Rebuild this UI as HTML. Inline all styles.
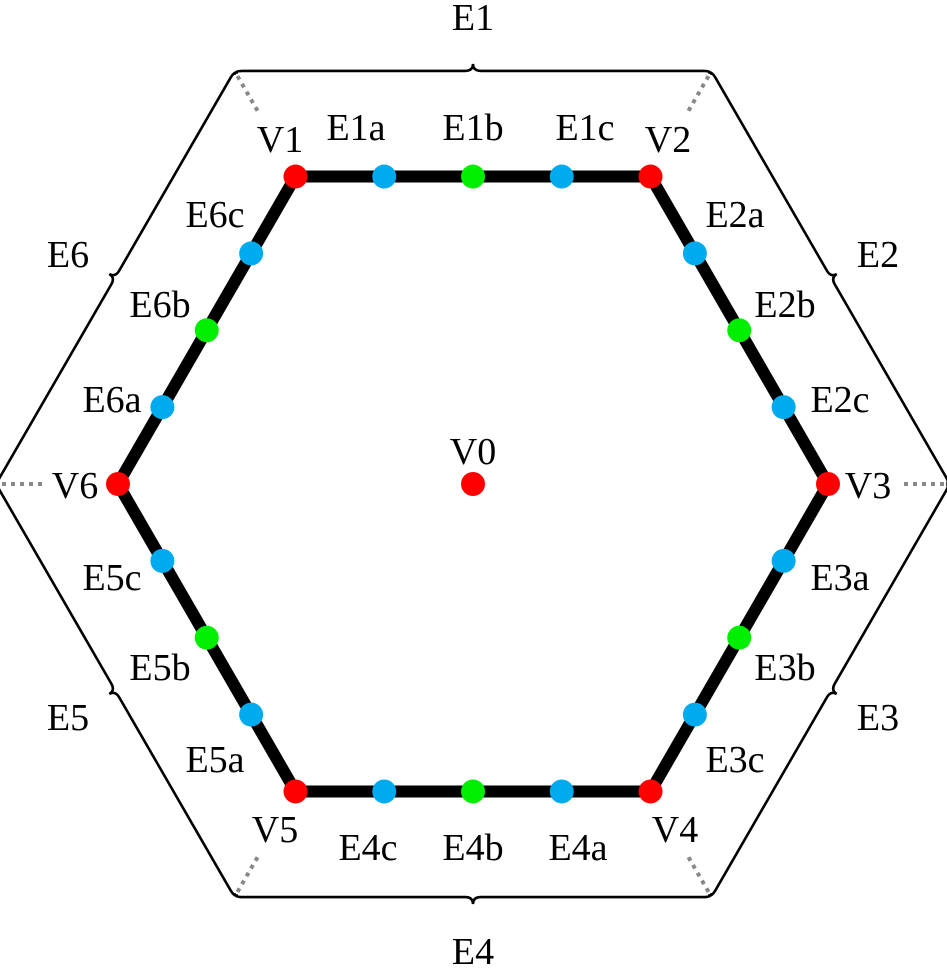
<!DOCTYPE html>
<html><head><meta charset="utf-8">
<style>
html,body{margin:0;padding:0;background:#fff;}
svg text{font-family:"Liberation Serif",serif;font-size:38px;fill:#000;text-anchor:middle;dominant-baseline:central;}
</style></head>
<body>
<svg id="c" width="947" height="968" viewBox="0 0 947 968" xmlns="http://www.w3.org/2000/svg"></svg>
<script>
const vertexNames = ["V1","V2","V3","V4","V5","V6"];
const edgeNames = ["E1","E2","E3","E4","E5","E6"];
const subFractions = [0.25,0.5,0.75];
const subColors = ["#00aaee","#00ee00","#00aaee"];
const subSuffixes = [["a","b","c"],["a","b","c"],["a","b","c"],["a","b","c"],["a","b","c"],["a","b","c"]];
const vertexAngles = [120,60,0,-60,-120,180];
const vertexLabelPos = [[280,140],[668,140],[868,486],[675,830],[275,830],[75,486]];
const subLabelPos = [
 [[356,128],[473,128],[585,128]],
 [[735,215],[785,305],[840,400]],
 [[840,578],[785,668],[735,760]],
 [[578,848],[473,848],[368,848]],
 [[215,760],[160,668],[112,578]],
 [[112,400],[160,305],[215,215]]];
const edgeLabelPos = [[473,18],[878,255],[878,718],[473,952],[68,718],[68,255]];

const NS="http://www.w3.org/2000/svg";
const svg=document.getElementById('c');
const cx=473, cy=484, R=355, RO=477;
function pt(a,r){const t=a*Math.PI/180;return [cx+r*Math.cos(t), cy-r*Math.sin(t)];}
function mk(tag,attrs){const e=document.createElementNS(NS,tag);for(const k in attrs)e.setAttribute(k,attrs[k]);svg.appendChild(e);return e;}
const V=vertexAngles.map(a=>pt(a,R));
const O=vertexAngles.map(a=>pt(a,RO));

O.forEach((o,i)=>{
  const dx=cx-o[0], dy=cy-o[1], L=Math.hypot(dx,dy);
  const l=mk('line',{x1:o[0]+dx/L*6,y1:o[1]+dy/L*6,x2:o[0]+dx/L*46,y2:o[1]+dy/L*46,stroke:'#888','stroke-width':4,'stroke-dasharray':'4 5'});
  
  
});
for(let i=0;i<6;i++){
  const A=O[i], B=O[(i+1)%6];
  const tx=(B[0]-A[0]), ty=(B[1]-A[1]), L=Math.hypot(tx,ty);
  const ux=tx/L, uy=ty/L;
  const mx=(A[0]+B[0])/2, my=(A[1]+B[1])/2;
  let nx=mx-cx, ny=my-cy; const nl=Math.hypot(nx,ny); nx/=nl; ny/=nl;
  const a=4, r=8;
  const P=(p,s,n)=>(p[0]+ux*s+nx*n).toFixed(1)+','+(p[1]+uy*s+ny*n).toFixed(1);
  const M=[mx,my];
  const d='M'+P(A,0,-a)+' Q'+P(A,0,0)+' '+P(A,r,0)+' L'+P(M,-r,0)+' Q'+P(M,0,0)+' '+P(M,0,a+3)+' Q'+P(M,0,0)+' '+P(M,r,0)+' L'+P(B,-r,0)+' Q'+P(B,0,0)+' '+P(B,0,-a);
  const p=mk('path',{d:d,fill:'none',stroke:'#000','stroke-width':2.6});
  
  
}
const hex=mk('polygon',{points:V.map(v=>v.join(',')).join(' '),fill:'none',stroke:'#000','stroke-width':12,'stroke-linejoin':'miter'});


for(let i=0;i<6;i++){
  const A=V[i], B=V[(i+1)%6];
  subFractions.forEach((f,j)=>{
    const c=mk('circle',{cx:A[0]+(B[0]-A[0])*f,cy:A[1]+(B[1]-A[1])*f,r:12,fill:subColors[j]});
    
    
    const t=mk('text',{x:subLabelPos[i][j][0],y:subLabelPos[i][j][1]});
    t.textContent=edgeNames[i]+subSuffixes[i][j];
    
    
  });
  const t=mk('text',{x:edgeLabelPos[i][0],y:edgeLabelPos[i][1]});
  t.textContent=edgeNames[i];
  
  
}
V.forEach((v,i)=>{
  const c=mk('circle',{cx:v[0],cy:v[1],r:12,fill:'#ff0000'});
  
  
  const t=mk('text',{x:vertexLabelPos[i][0],y:vertexLabelPos[i][1]});
  t.textContent=vertexNames[i];
  
  
});
const c0=mk('circle',{cx:cx,cy:cy,r:12,fill:'#ff0000'});


const t0=mk('text',{x:473,y:452});
t0.textContent='V0';


</script>
</body></html>
